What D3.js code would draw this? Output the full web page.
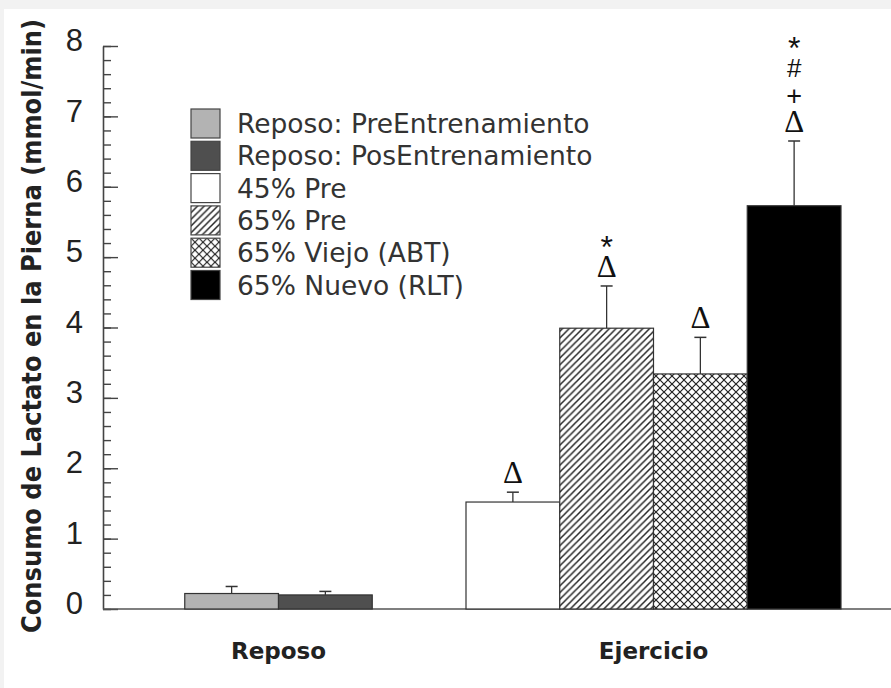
<!DOCTYPE html>
<html>
<head>
<meta charset="utf-8">
<script src="https://cdn.jsdelivr.net/npm/d3@7"></script>
<style>
  body { margin: 0; background: #f2f2f2; }
  svg { display: block; }
</style>
</head>
<body>
<svg id="chart" width="891" height="688"></svg>
<script>
// data
var groups = ["Reposo", "Ejercicio"];
var series = ["Reposo: PreEntrenamiento", "Reposo: PosEntrenamiento", "45% Pre", "65% Pre", "65% Viejo (ABT)", "65% Nuevo (RLT)"];
var barGroup = ["Reposo", "Reposo", "Ejercicio", "Ejercicio", "Ejercicio", "Ejercicio"];
var means = [0.22, 0.20, 1.52, 3.99, 3.34, 5.73];
var errs = [0.10, 0.05, 0.14, 0.60, 0.52, 0.92];
var marks = [[], [], ["Δ"], ["Δ", "*"], ["Δ"], ["Δ", "+", "#", "*"]];
var yTicks = [0, 1, 2, 3, 4, 5, 6, 7, 8];
var yTitle = "Consumo de Lactato en la Pierna (mmol/min)";

var fills = ["#b3b3b3", "#4f4f4f", "#ffffff", "url(#hatch)", "url(#cross)", "#000000"];

var svg = d3.select("#chart");

// white panel
svg.append("rect").attr("x", 4).attr("y", 9).attr("width", 887).attr("height", 679).attr("fill", "#fff");

var defs = svg.append("defs");
var hatch = defs.append("pattern").attr("id", "hatch").attr("patternUnits", "userSpaceOnUse")
    .attr("width", 6.7).attr("height", 6.7);
hatch.append("rect").attr("width", 6.7).attr("height", 6.7).attr("fill", "#fff");
hatch.append("path").attr("d", "M-1,1 l2,-2 M0,6.7 l6.7,-6.7 M5.7,7.7 l2,-2")
    .attr("stroke", "#222").attr("stroke-width", 1.5);

var cross = defs.append("pattern").attr("id", "cross").attr("patternUnits", "userSpaceOnUse")
    .attr("width", 8).attr("height", 8);
cross.append("rect").attr("width", 8).attr("height", 8).attr("fill", "#fff");
cross.append("path").attr("d", "M0,0 L8,8 M0,8 L8,0")
    .attr("stroke", "#222").attr("stroke-width", 1.2);

var y = d3.scaleLinear().domain([0, 8]).range([609, 46]);
var x0 = d3.scaleBand().domain(groups).range([91, 841]).padding(0);
var barW = x0.bandwidth() / 4;
var axisX = 103;

var data = series.map(function(s, i) {
  return { name: s, group: barGroup[i], mean: means[i], err: errs[i], marks: marks[i], fill: fills[i] };
});
// position of each bar within its group
groups.forEach(function(g) {
  var inG = data.filter(function(d) { return d.group === g; });
  inG.forEach(function(d, k) {
    d.x = x0(g) + x0.bandwidth() / 2 - inG.length * barW / 2 + k * barW;
  });
});

// axes
var ax = svg.append("g").attr("transform", "translate(" + axisX + ",0)");
ax.call(d3.axisLeft(y).tickValues(d3.range(0, 8.001, 0.2)).tickSize(-8).tickSizeOuter(0).tickFormat(""));
ax.call(function(g) { g.select(".domain").remove(); });
var ax2 = svg.append("g").attr("transform", "translate(" + axisX + ",0)")
    .call(d3.axisLeft(y).tickValues(yTicks).tickSize(-15).tickSizeOuter(0).tickPadding(20).tickFormat(d3.format("d")));
svg.selectAll(".tick line").attr("stroke", "#444").attr("stroke-width", 1.4);
ax2.select(".domain").attr("stroke", "#444").attr("stroke-width", 1.6);
ax2.selectAll(".tick text")
    .attr("font-family", "Liberation Sans, Arial, sans-serif")
    .attr("font-size", 31).attr("fill", "#222")
    .attr("dy", "0.15em");

// baseline
svg.append("line").attr("x1", axisX).attr("x2", 891).attr("y1", y(0)).attr("y2", y(0))
    .attr("stroke", "#555").attr("stroke-width", 1.6);

// bars
svg.selectAll(".bar").data(data).enter().append("rect")
    .attr("class", "bar")
    .attr("x", function(d) { return d.x; })
    .attr("width", barW)
    .attr("y", function(d) { return y(d.mean); })
    .attr("height", function(d) { return y(0) - y(d.mean); })
    .attr("fill", function(d) { return d.fill; })
    .attr("stroke", "#333").attr("stroke-width", 1.2);

// error bars
var eb = svg.selectAll(".err").data(data).enter().append("g").attr("class", "err");
eb.append("line")
    .attr("x1", function(d) { return d.x + barW / 2; })
    .attr("x2", function(d) { return d.x + barW / 2; })
    .attr("y1", function(d) { return y(d.mean); })
    .attr("y2", function(d) { return y(d.mean + d.err); })
    .attr("stroke", "#333").attr("stroke-width", 1.3);
eb.append("line")
    .attr("x1", function(d) { return d.x + barW / 2 - 6; })
    .attr("x2", function(d) { return d.x + barW / 2 + 6; })
    .attr("y1", function(d) { return y(d.mean + d.err); })
    .attr("y2", function(d) { return y(d.mean + d.err); })
    .attr("stroke", "#333").attr("stroke-width", 1.5);

// significance marks
var glyphSize = { "Δ": 31, "+": 27, "#": 26, "*": 32 };
var glyphOff = { "Δ": 10, "+": 9.5, "#": 9, "*": 18 };
data.forEach(function(d) {
  d.marks.forEach(function(m, k) {
    var cy = y(d.mean + d.err) - 19 - k * 27;
    svg.append("text")
        .attr("x", d.x + barW / 2)
        .attr("y", cy + glyphOff[m])
        .attr("text-anchor", "middle")
        .attr("font-family", m === "Δ" ? "Liberation Serif, Times New Roman, serif" : "Liberation Sans, Arial, sans-serif")
        .attr("font-size", glyphSize[m])
        .attr("fill", "#111")
        .text(m);
  });
});

// group labels
svg.selectAll(".glab").data(groups).enter().append("text")
    .attr("x", function(g) { return x0(g) + x0.bandwidth() / 2; })
    .attr("y", 659)
    .attr("text-anchor", "middle")
    .attr("font-family", "DejaVu Sans, Verdana, sans-serif")
    .attr("font-weight", "bold").attr("font-size", 23).attr("fill", "#222")
    .text(function(g) { return g; });

// y title
svg.append("text")
    .attr("transform", "translate(41,326) rotate(-90)")
    .attr("text-anchor", "middle")
    .attr("font-family", "DejaVu Sans, Verdana, sans-serif")
    .attr("font-weight", "bold").attr("font-size", 26).attr("fill", "#222")
    .attr("textLength", 614).attr("lengthAdjust", "spacingAndGlyphs")
    .text(yTitle);

// legend
var leg = svg.selectAll(".leg").data(data).enter().append("g")
    .attr("class", "leg")
    .attr("transform", function(d, i) { return "translate(191," + (109 + i * 32.3) + ")"; });
leg.append("rect").attr("width", 29).attr("height", 29)
    .attr("fill", function(d) { return d.fill; })
    .attr("stroke", "#444").attr("stroke-width", 1.2);
leg.append("text").attr("x", 46).attr("y", 24)
    .attr("font-family", "DejaVu Sans, Verdana, sans-serif")
    .attr("font-size", 26.5).attr("fill", "#333")
    .text(function(d) { return d.name; });
</script>
</body>
</html>
